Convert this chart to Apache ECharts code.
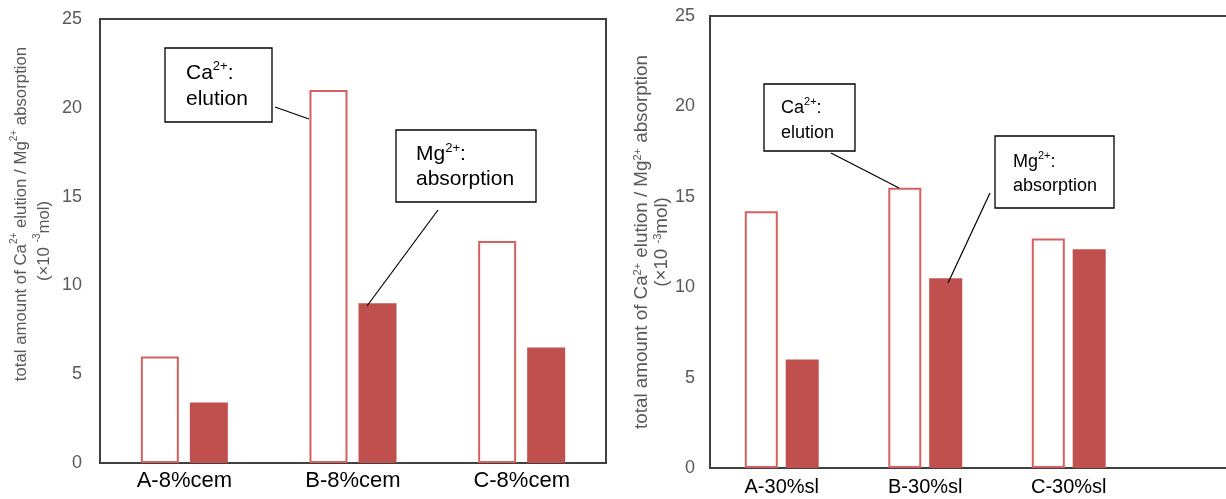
<!DOCTYPE html>
<html>
<head>
<meta charset="utf-8">
<script src="https://cdn.jsdelivr.net/npm/echarts@6/dist/echarts.min.js"></script>
<style>html,body{margin:0;padding:0;background:#fff}#c{width:1226px;height:499px}</style>
</head>
<body>
<div id="c"></div>
<script>
const catsLeft = ['A-8%cem', 'B-8%cem', 'C-8%cem'];
const caLeft = [6.0, 21.0, 12.5];
const mgLeft = [3.4, 9.0, 6.5];
const catsRight = ['A-30%sl', 'B-30%sl', 'C-30%sl'];
const caRight = [14.2, 15.5, 12.7];
const mgRight = [6.0, 10.5, 12.1];

const FONT = 'Liberation Sans, Arial, sans-serif';
const RED = '#C0504D';
const CA_BORDER = '#D5615F';
const FRAME = '#404040';

const chart = echarts.init(document.getElementById('c'), null, {renderer: 'canvas'});

function yName(pad) {
  return (pad ? '{p| }' : '') + '{a|total amount of Ca}{s|2+}{a| elution / Mg}{s|2+}{a| absorption}\n{a|(×10 }{s|-3}{a|mol)}';
}
function yNameRich(fs, lh, pad) {
  return {
    a: {fontSize: fs, color: '#595959', fontFamily: FONT, lineHeight: lh, verticalAlign: 'middle'},
    s: {fontSize: Math.round(fs * 0.6), color: '#595959', fontFamily: FONT, lineHeight: Math.round(fs * 0.7), verticalAlign: 'top'},
    p: {width: pad || 0, fontSize: fs, lineHeight: lh}
  };
}

const option = {
  animation: false,
  backgroundColor: '#fff',
  grid: [
    {left: 100, top: 19, width: 506, height: 444, show: true, borderColor: FRAME, borderWidth: 2, backgroundColor: 'transparent', containLabel: false, outerBoundsMode: 'none'},
    {left: 710, top: 16, width: 430.5, height: 452, show: false, containLabel: false, outerBoundsMode: 'none'},
    {left: 710, top: 16, width: 540, height: 452, show: true, borderColor: FRAME, borderWidth: 2, backgroundColor: 'transparent', containLabel: false, outerBoundsMode: 'none'}
  ],
  xAxis: [
    {type: 'category', gridIndex: 0, data: catsLeft, axisTick: {show: false}, axisLine: {show: false},
     axisLabel: {color: '#000', fontSize: 22, fontFamily: FONT, margin: 7}},
    {type: 'category', gridIndex: 1, data: catsRight, axisTick: {show: false}, axisLine: {show: false},
     axisLabel: {color: '#000', fontSize: 20, fontFamily: FONT, margin: 9}}
  ],
  yAxis: [
    {type: 'value', gridIndex: 0, min: 0, max: 25, interval: 5, splitLine: {show: false}, axisTick: {show: false}, axisLine: {show: false},
     axisLabel: {color: '#595959', fontSize: 18, fontFamily: FONT, margin: 18},
     name: yName(true), nameLocation: 'middle', nameRotate: 90, nameGap: 44.5, nameMoveOverlap: false,
     nameTextStyle: {rich: yNameRich(16.8, 23, 54)}},
    {type: 'value', gridIndex: 1, min: 0, max: 25, interval: 5, splitLine: {show: false}, axisTick: {show: false}, axisLine: {show: false},
     axisLabel: {color: '#595959', fontSize: 18, fontFamily: FONT, margin: 15},
     name: yName(false), nameLocation: 'middle', nameRotate: 90, nameGap: 38, nameMoveOverlap: false,
     nameTextStyle: {rich: yNameRich(18.8, 20)}}
  ],
  series: [
    {type: 'bar', xAxisIndex: 0, yAxisIndex: 0, data: caLeft, barWidth: 38, barGap: '29%',
     itemStyle: {color: '#fff', borderColor: CA_BORDER, borderWidth: 2}},
    {type: 'bar', xAxisIndex: 0, yAxisIndex: 0, data: mgLeft, barWidth: 38, barGap: '29%',
     itemStyle: {color: RED}},
    {type: 'bar', xAxisIndex: 1, yAxisIndex: 1, data: caRight, barWidth: 33, barGap: '24%',
     itemStyle: {color: '#fff', borderColor: CA_BORDER, borderWidth: 2}},
    {type: 'bar', xAxisIndex: 1, yAxisIndex: 1, data: mgRight, barWidth: 33, barGap: '24%',
     itemStyle: {color: RED}}
  ]
};

function annot(box, textPos, lines, fs, lh, line) {
  const rich = {
    n: {fontSize: fs, fontFamily: FONT, fill: '#000', lineHeight: lh, verticalAlign: 'middle'},
    s: {fontSize: Math.round(fs * 0.62), fontFamily: FONT, fill: '#000', lineHeight: Math.round(fs * 0.75), verticalAlign: 'top'}
  };
  return [
    {type: 'rect', shape: {x: box[0], y: box[1], width: box[2], height: box[3]},
     style: {fill: '#fff', stroke: '#000', lineWidth: 1.3}, z: 10},
    {type: 'text', x: textPos[0], y: textPos[1], z: 11,
     style: {text: lines, rich: rich, fill: '#000', textVerticalAlign: 'top', textAlign: 'left'}},
    {type: 'line', shape: {x1: line[0], y1: line[1], x2: line[2], y2: line[3]},
     style: {stroke: '#000', lineWidth: 1.2}, z: 10}
  ];
}

option.graphic = [].concat(
  annot([165, 48, 107, 74], [186, 60], '{n|Ca}{s|2+}{n|:}\n{n|elution}', 21, 26, [275, 107, 309, 119]),
  annot([396, 130, 140, 72], [416, 142], '{n|Mg}{s|2+}{n|:}\n{n|absorption}', 21, 25, [438, 210, 367, 306]),
  annot([764, 84, 91, 67], [781, 96], '{n|Ca}{s|2+}{n|:}\n{n|elution}', 18, 25, [831, 153, 899, 188]),
  annot([995, 136, 119, 72], [1013, 150], '{n|Mg}{s|2+}{n|:}\n{n|absorption}', 18, 24, [990, 193, 948, 283])
);

chart.setOption(option);
</script>
</body>
</html>
